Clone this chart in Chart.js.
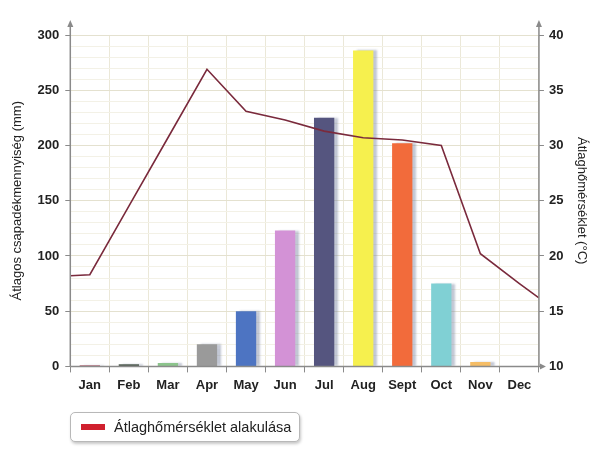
<!DOCTYPE html>
<html>
<head>
<meta charset="utf-8">
<script src="https://cdn.jsdelivr.net/npm/chart.js@4.4.1/dist/chart.umd.min.js"></script>
<style>
  html, body { margin: 0; padding: 0; background: #fff; }
  #wrap { width: 600px; height: 456px; position: relative; }
  #legend {
    position: absolute; left: 70px; top: 412px; width: 230px; height: 30px;
    box-sizing: border-box; border: 1px solid #b8b8b8; border-radius: 5px;
    box-shadow: 1px 2px 3px rgba(0,0,0,0.22); background: #fff;
    font-family: 'Liberation Sans', Arial, sans-serif; font-size: 14.5px; color: #222;
    display: flex; align-items: center;
  }
  #legend .sw { display: inline-block; width: 24px; height: 6px; background: #d0202e; margin-left: 10px; margin-right: 9px; }
</style>
</head>
<body>
<div id="wrap"><canvas id="c" width="600" height="456"></canvas><div id="legend"><span class="sw"></span><span id="legendText"></span></div></div>
<script>
const months = ['Jan','Feb','Mar','Apr','May','Jun','Jul','Aug','Sept','Oct','Nov','Dec'];
const rainfall = [1, 2, 3, 20, 50, 123, 225, 286, 202, 75, 4, 0];
const barColors = ['#b86a78','#556055','#8cc48c','#9a9a9a','#4d74c2','#d392d6','#55557f','#f6f04e','#f26b3b','#80d0d4','#f5bd66','#cccccc'];
const temps = [18.3, 24.5, 30.7, 36.9, 33.1, 32.3, 31.3, 30.7, 30.5, 30.0, 20.2, 17.5];
const tempStartEdge = 18.2;
const tempEndEdge = 16.2;
const leftTicks = [0, 50, 100, 150, 200, 250, 300];
const rightTicks = [10, 15, 20, 25, 30, 35, 40];
const leftTitle = 'Átlagos csapadékmennyiség (mm)';
const rightTitle = 'Átlaghőmérséklet (°C)';
const legendLabel = 'Átlaghőmérséklet alakulása';

document.getElementById('legendText').textContent = legendLabel;

const linePoints = [{x: 0, y: tempStartEdge}]
  .concat(temps.map((t, i) => ({x: i + 0.5, y: t})))
  .concat([{x: months.length, y: tempEndEdge}]);

const decor = {
  id: 'decor',
  beforeDatasetDraw(chart, args) {
    if (args.index === 1) {
      const ctx = chart.ctx;
      ctx.save();
      ctx.shadowColor = 'rgba(120,130,160,0.45)';
      ctx.shadowOffsetX = 4;
      ctx.shadowOffsetY = 0;
      ctx.shadowBlur = 2;
    }
  },
  afterDatasetDraw(chart, args) {
    if (args.index === 1) chart.ctx.restore();
  },
  afterDraw(chart) {
    const ctx = chart.ctx;
    const a = chart.chartArea;
    ctx.save();
    ctx.strokeStyle = '#8a8a8a';
    ctx.fillStyle = '#8a8a8a';
    ctx.lineWidth = 1.5;
    ctx.beginPath();
    ctx.moveTo(a.left, a.bottom); ctx.lineTo(a.left, a.top - 10);
    ctx.moveTo(a.right, a.bottom); ctx.lineTo(a.right, a.top - 10);
    ctx.moveTo(a.left, a.bottom); ctx.lineTo(a.right + 3, a.bottom);
    ctx.stroke();
    const up = (x, y) => { ctx.beginPath(); ctx.moveTo(x, y - 5); ctx.lineTo(x - 3, y + 2); ctx.lineTo(x + 3, y + 2); ctx.closePath(); ctx.fill(); };
    up(a.left, a.top - 10);
    up(a.right, a.top - 10);
    ctx.beginPath(); ctx.moveTo(a.right + 7, a.bottom); ctx.lineTo(a.right + 1, a.bottom - 3); ctx.lineTo(a.right + 1, a.bottom + 3); ctx.closePath(); ctx.fill();
    ctx.restore();
  }
};

const tickFont = { family: 'Liberation Sans, Arial, sans-serif', size: 13, weight: 'bold' };
const titleFont = { family: 'Liberation Sans, Arial, sans-serif', size: 13 };

new Chart(document.getElementById('c'), {
  data: {
    labels: months,
    datasets: [
      {
        type: 'line',
        label: legendLabel,
        data: linePoints,
        xAxisID: 'xl',
        yAxisID: 'yr',
        borderColor: '#7a2a3c',
        backgroundColor: '#d0202e',
        borderWidth: 1.6,
        pointRadius: 0,
        tension: 0,
        order: 0
      },
      {
        type: 'bar',
        label: 'Csapadék',
        data: rainfall,
        xAxisID: 'x',
        yAxisID: 'y',
        backgroundColor: barColors,
        borderWidth: 0,
        grouped: false,
        barPercentage: 0.52,
        categoryPercentage: 1.0,
        order: 1
      }
    ]
  },
  plugins: [decor],
  options: {
    responsive: false,
    animation: false,
    devicePixelRatio: 1,
    layout: { padding: { top: 35, right: 5, left: 10, bottom: 58 } },
    plugins: {
      legend: { display: false },
      tooltip: { enabled: false }
    },
    scales: {
      x: {
        type: 'category',
        offset: true,
        grid: { offset: true, color: '#ebe8d8', lineWidth: 1, drawTicks: true, tickLength: 6, tickColor: '#8a8a8a' },
        border: { display: false },
        ticks: { color: '#222', font: tickFont, padding: 5 }
      },
      xl: {
        type: 'linear',
        display: false,
        min: 0,
        max: months.length
      },
      y: {
        type: 'linear',
        position: 'left',
        min: 0,
        max: 300,
        afterBuildTicks: (s) => { s.ticks = []; for (let v = 0; v <= 300; v += 10) s.ticks.push({value: v}); },
        grid: {
          color: (c) => (c.tick && c.tick.value % 50 === 0) ? '#e4e1cf' : '#f3f1e6',
          lineWidth: 1,
          tickLength: 5,
          tickColor: (c) => (c.tick && c.tick.value % 50 === 0) ? '#8a8a8a' : 'rgba(0,0,0,0)'
        },
        border: { display: false },
        ticks: {
          color: '#222',
          font: tickFont,
          padding: 6,
          autoSkip: false,
          callback: (v) => leftTicks.includes(v) ? String(v) : ''
        },
        title: { display: true, text: leftTitle, color: '#222', font: titleFont, padding: { top: 0, bottom: 6 } }
      },
      yr: {
        type: 'linear',
        position: 'right',
        min: 10,
        max: 40,
        afterBuildTicks: (s) => { s.ticks = rightTicks.map(v => ({value: v})); },
        grid: { drawOnChartArea: false, tickLength: 5, tickColor: '#8a8a8a' },
        border: { display: false },
        ticks: { color: '#222', font: tickFont, padding: 5 },
        title: { display: true, text: rightTitle, color: '#222', font: titleFont, padding: { top: 6, bottom: 5 } }
      }
    }
  }
});
</script>
</body>
</html>
